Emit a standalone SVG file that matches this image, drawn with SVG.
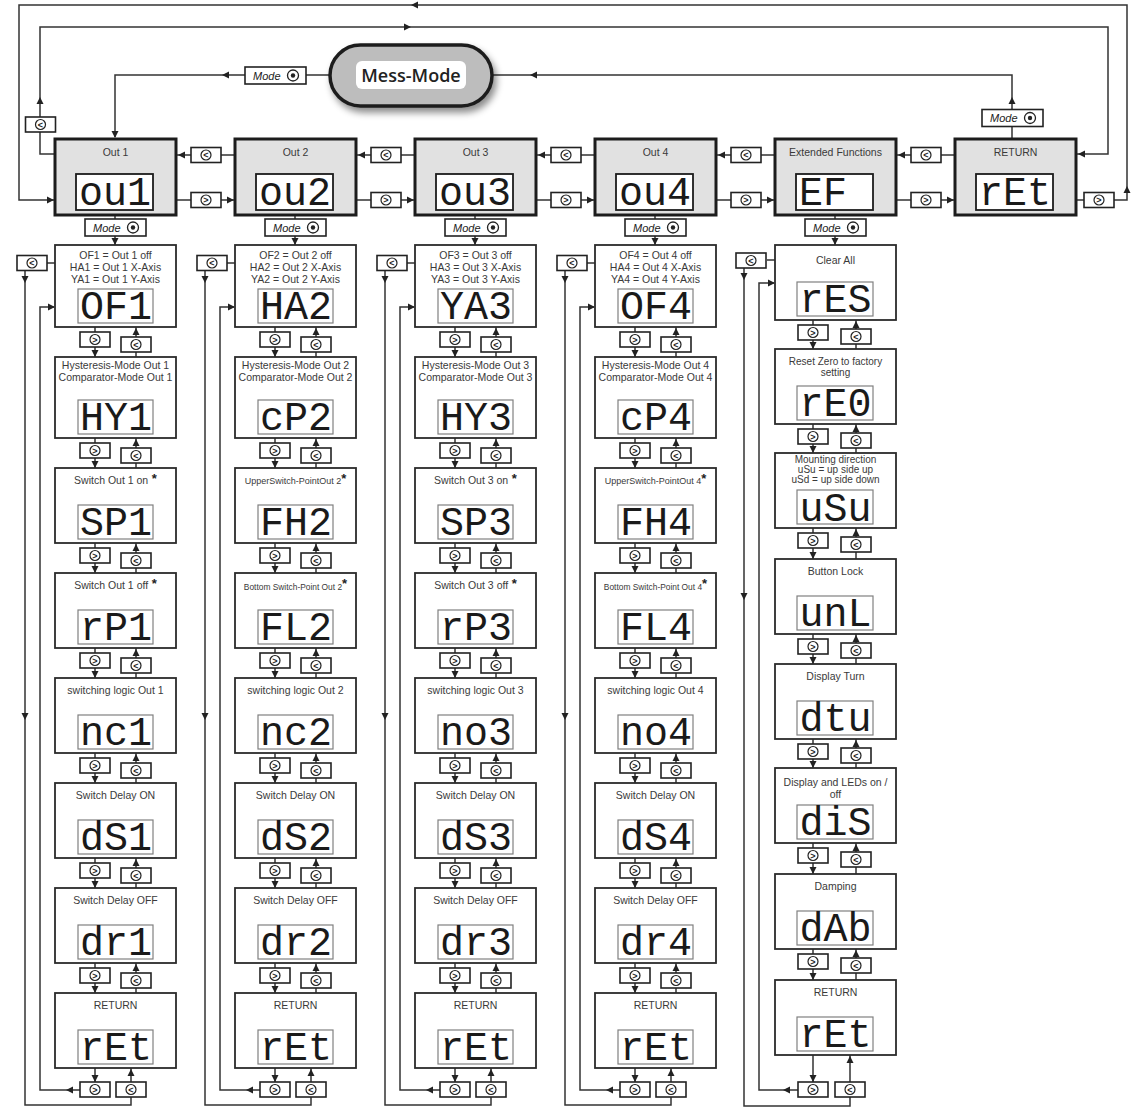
<svg xmlns="http://www.w3.org/2000/svg" width="1136" height="1117" viewBox="0 0 1136 1117">
<style>
.ln{fill:none;stroke:#333;stroke-width:1.5}
.tb{fill:#e1e1e1;stroke:#1c1c1c;stroke-width:3}
.sb{fill:#fff;stroke:#2b2b2b;stroke-width:1.8}
.lt{fill:#fff;stroke:#1c1c1c;stroke-width:1.8}
.ls{fill:#fff;stroke:#808080;stroke-width:1.2}
.t{font-family:"Liberation Sans",Arial,sans-serif;font-size:10.5px;fill:#3a3a3a;text-anchor:middle}
.t10{font-size:10px}
.t9{font-size:9px}
.t8{font-size:8.4px}
.st{font-size:13px;font-weight:bold;fill:#222}
.seg{font-family:"Liberation Mono","DejaVu Sans Mono",monospace;font-size:40px;fill:#1a1a1a}
.bt{font-family:"Liberation Sans",Arial,sans-serif;font-size:9px;font-weight:bold;fill:#222;text-anchor:middle}
.md{font-family:"Liberation Sans",Arial,sans-serif;font-size:11px;font-style:italic;fill:#222}
.mm{font-family:"Open Sans","Liberation Sans",sans-serif;font-size:18px;font-weight:600;fill:#222;text-anchor:middle}
</style>
<defs>
<path id="ah" d="M0,0 L-7,-3.5 L-7,3.5 Z" fill="#222"/>
<g id="bb"><rect width="30" height="15" fill="#fff" stroke="#222" stroke-width="1.6"/><circle cx="15" cy="7.5" r="5" fill="#fff" stroke="#222" stroke-width="1.2"/></g>
<g id="mb"><rect width="61" height="17" fill="#fff" stroke="#222" stroke-width="1.6"/><circle cx="48" cy="8.5" r="5.5" fill="#fff" stroke="#222" stroke-width="1.3"/><circle cx="48" cy="8.5" r="2.2" fill="#222"/></g>
<filter id="sh" x="-20%" y="-30%" width="150%" height="180%"><feDropShadow dx="3" dy="5" stdDeviation="3.5" flood-color="#000" flood-opacity="0.45"/></filter>
</defs>

<!-- ===== Connectors ===== -->
<g id="connectors">
<path class="ln" d="M1076,200H1127V5H19V200H68"/>
<path class="ln" d="M64,154H40V27H1108V154H1077"/>
<path class="ln" d="M330,75H115V137"/>
<path class="ln" d="M492,75H1012V139"/>
<path class="ln" d="M235,155H177M176,200H234M415,155H357M356,200H414M595,155H537M536,200H594M775,155H717M716,200H774M955,155H897M896,200H954"/>
<path class="ln" d="M115,215V245M295,215V245M475,215V245M655,215V245M835,215V245"/>
<path class="ln" d="M95,327V357M95,438V468M95,543V573M95,648V678M95,753V783M95,858V888M95,963V993M95,1068V1082M136,357V327M136,468V438M136,573V543M136,678V648M136,783V753M136,888V858M136,993V963M131,1082V1068M55,263H47M25,270V1105H131V1097M80,1090H40V307H54"/>
<path class="ln" d="M275,327V357M275,438V468M275,543V573M275,648V678M275,753V783M275,858V888M275,963V993M275,1068V1082M316,357V327M316,468V438M316,573V543M316,678V648M316,783V753M316,888V858M316,993V963M311,1082V1068M235,263H227M205,270V1105H311V1097M260,1090H220V307H234"/>
<path class="ln" d="M455,327V357M455,438V468M455,543V573M455,648V678M455,753V783M455,858V888M455,963V993M455,1068V1082M496,357V327M496,468V438M496,573V543M496,678V648M496,783V753M496,888V858M496,993V963M491,1082V1068M415,263H407M385,270V1105H491V1097M440,1090H400V307H414"/>
<path class="ln" d="M635,327V357M635,438V468M635,543V573M635,648V678M635,753V783M635,858V888M635,963V993M635,1068V1082M676,357V327M676,468V438M676,573V543M676,678V648M676,783V753M676,888V858M676,993V963M671,1082V1068M595,263H587M565,270V1105H671V1097M620,1090H580V307H594"/>
<path class="ln" d="M813,320V349M813,424V453M813,528V559M813,634V664M813,739V768M813,843V874M813,949V980M813,1055V1082M856,349V320M856,453V424M856,559V528M856,664V634M856,768V739M856,874V843M856,980V949M850,1082V1055M775,260H767M744,268V1106H850V1097M798,1090H759V283H774"/>

<use href="#ah" transform="translate(1127 186) rotate(270)"/>
<use href="#ah" transform="translate(411 5) rotate(180)"/>
<use href="#ah" transform="translate(54 200)"/>
<use href="#ah" transform="translate(40 97) rotate(270)"/>
<use href="#ah" transform="translate(411 27)"/>
<use href="#ah" transform="translate(1078 154) rotate(180)"/>
<use href="#ah" transform="translate(222 75) rotate(180)"/>
<use href="#ah" transform="translate(115 138) rotate(90)"/>
<use href="#ah" transform="translate(530 75) rotate(180)"/>
<use href="#ah" transform="translate(1012 97) rotate(270)"/>
<use href="#ah" transform="translate(178 155) rotate(180)"/>
<use href="#ah" transform="translate(234 200)"/>
<use href="#ah" transform="translate(358 155) rotate(180)"/>
<use href="#ah" transform="translate(414 200)"/>
<use href="#ah" transform="translate(538 155) rotate(180)"/>
<use href="#ah" transform="translate(594 200)"/>
<use href="#ah" transform="translate(718 155) rotate(180)"/>
<use href="#ah" transform="translate(774 200)"/>
<use href="#ah" transform="translate(898 155) rotate(180)"/>
<use href="#ah" transform="translate(954 200)"/>
<use href="#ah" transform="translate(115 245) rotate(90)"/>
<use href="#ah" transform="translate(295 245) rotate(90)"/>
<use href="#ah" transform="translate(475 245) rotate(90)"/>
<use href="#ah" transform="translate(655 245) rotate(90)"/>
<use href="#ah" transform="translate(835 245) rotate(90)"/>
<use href="#ah" transform="translate(95 357) rotate(90)"/><use href="#ah" transform="translate(95 468) rotate(90)"/><use href="#ah" transform="translate(95 573) rotate(90)"/><use href="#ah" transform="translate(95 678) rotate(90)"/><use href="#ah" transform="translate(95 783) rotate(90)"/><use href="#ah" transform="translate(95 888) rotate(90)"/><use href="#ah" transform="translate(95 993) rotate(90)"/><use href="#ah" transform="translate(95 1082) rotate(90)"/>
<use href="#ah" transform="translate(136 328) rotate(270)"/><use href="#ah" transform="translate(136 439) rotate(270)"/><use href="#ah" transform="translate(136 544) rotate(270)"/><use href="#ah" transform="translate(136 649) rotate(270)"/><use href="#ah" transform="translate(136 754) rotate(270)"/><use href="#ah" transform="translate(136 859) rotate(270)"/><use href="#ah" transform="translate(136 964) rotate(270)"/><use href="#ah" transform="translate(131 1069) rotate(270)"/>
<use href="#ah" transform="translate(25 283) rotate(90)"/><use href="#ah" transform="translate(25 720) rotate(90)"/><use href="#ah" transform="translate(66 1090) rotate(180)"/><use href="#ah" transform="translate(55 307)"/>
<use href="#ah" transform="translate(275 357) rotate(90)"/><use href="#ah" transform="translate(275 468) rotate(90)"/><use href="#ah" transform="translate(275 573) rotate(90)"/><use href="#ah" transform="translate(275 678) rotate(90)"/><use href="#ah" transform="translate(275 783) rotate(90)"/><use href="#ah" transform="translate(275 888) rotate(90)"/><use href="#ah" transform="translate(275 993) rotate(90)"/><use href="#ah" transform="translate(275 1082) rotate(90)"/>
<use href="#ah" transform="translate(316 328) rotate(270)"/><use href="#ah" transform="translate(316 439) rotate(270)"/><use href="#ah" transform="translate(316 544) rotate(270)"/><use href="#ah" transform="translate(316 649) rotate(270)"/><use href="#ah" transform="translate(316 754) rotate(270)"/><use href="#ah" transform="translate(316 859) rotate(270)"/><use href="#ah" transform="translate(316 964) rotate(270)"/><use href="#ah" transform="translate(311 1069) rotate(270)"/>
<use href="#ah" transform="translate(205 283) rotate(90)"/><use href="#ah" transform="translate(205 720) rotate(90)"/><use href="#ah" transform="translate(246 1090) rotate(180)"/><use href="#ah" transform="translate(235 307)"/>
<use href="#ah" transform="translate(455 357) rotate(90)"/><use href="#ah" transform="translate(455 468) rotate(90)"/><use href="#ah" transform="translate(455 573) rotate(90)"/><use href="#ah" transform="translate(455 678) rotate(90)"/><use href="#ah" transform="translate(455 783) rotate(90)"/><use href="#ah" transform="translate(455 888) rotate(90)"/><use href="#ah" transform="translate(455 993) rotate(90)"/><use href="#ah" transform="translate(455 1082) rotate(90)"/>
<use href="#ah" transform="translate(496 328) rotate(270)"/><use href="#ah" transform="translate(496 439) rotate(270)"/><use href="#ah" transform="translate(496 544) rotate(270)"/><use href="#ah" transform="translate(496 649) rotate(270)"/><use href="#ah" transform="translate(496 754) rotate(270)"/><use href="#ah" transform="translate(496 859) rotate(270)"/><use href="#ah" transform="translate(496 964) rotate(270)"/><use href="#ah" transform="translate(491 1069) rotate(270)"/>
<use href="#ah" transform="translate(385 283) rotate(90)"/><use href="#ah" transform="translate(385 720) rotate(90)"/><use href="#ah" transform="translate(426 1090) rotate(180)"/><use href="#ah" transform="translate(415 307)"/>
<use href="#ah" transform="translate(635 357) rotate(90)"/><use href="#ah" transform="translate(635 468) rotate(90)"/><use href="#ah" transform="translate(635 573) rotate(90)"/><use href="#ah" transform="translate(635 678) rotate(90)"/><use href="#ah" transform="translate(635 783) rotate(90)"/><use href="#ah" transform="translate(635 888) rotate(90)"/><use href="#ah" transform="translate(635 993) rotate(90)"/><use href="#ah" transform="translate(635 1082) rotate(90)"/>
<use href="#ah" transform="translate(676 328) rotate(270)"/><use href="#ah" transform="translate(676 439) rotate(270)"/><use href="#ah" transform="translate(676 544) rotate(270)"/><use href="#ah" transform="translate(676 649) rotate(270)"/><use href="#ah" transform="translate(676 754) rotate(270)"/><use href="#ah" transform="translate(676 859) rotate(270)"/><use href="#ah" transform="translate(676 964) rotate(270)"/><use href="#ah" transform="translate(671 1069) rotate(270)"/>
<use href="#ah" transform="translate(565 283) rotate(90)"/><use href="#ah" transform="translate(565 720) rotate(90)"/><use href="#ah" transform="translate(606 1090) rotate(180)"/><use href="#ah" transform="translate(595 307)"/>
<use href="#ah" transform="translate(813 349) rotate(90)"/><use href="#ah" transform="translate(813 453) rotate(90)"/><use href="#ah" transform="translate(813 559) rotate(90)"/><use href="#ah" transform="translate(813 664) rotate(90)"/><use href="#ah" transform="translate(813 768) rotate(90)"/><use href="#ah" transform="translate(813 874) rotate(90)"/><use href="#ah" transform="translate(813 980) rotate(90)"/><use href="#ah" transform="translate(813 1082) rotate(90)"/>
<use href="#ah" transform="translate(856 321) rotate(270)"/><use href="#ah" transform="translate(856 425) rotate(270)"/><use href="#ah" transform="translate(856 529) rotate(270)"/><use href="#ah" transform="translate(856 635) rotate(270)"/><use href="#ah" transform="translate(856 740) rotate(270)"/><use href="#ah" transform="translate(856 844) rotate(270)"/><use href="#ah" transform="translate(856 950) rotate(270)"/><use href="#ah" transform="translate(850 1056) rotate(270)"/>
<use href="#ah" transform="translate(744 280) rotate(90)"/><use href="#ah" transform="translate(744 600) rotate(90)"/><use href="#ah" transform="translate(783 1090) rotate(180)"/><use href="#ah" transform="translate(775 283)"/>

<use href="#mb" x="245" y="67"/><text class="md" x="253" y="79.5">Mode</text>
<use href="#mb" x="982" y="109.5"/><text class="md" x="990" y="122">Mode</text>
<use href="#mb" x="85" y="219"/><text class="md" x="93" y="231.5">Mode</text>
<use href="#mb" x="265" y="219"/><text class="md" x="273" y="231.5">Mode</text>
<use href="#mb" x="445" y="219"/><text class="md" x="453" y="231.5">Mode</text>
<use href="#mb" x="625" y="219"/><text class="md" x="633" y="231.5">Mode</text>
<use href="#mb" x="805" y="219"/><text class="md" x="813" y="231.5">Mode</text>

<use href="#bb" x="25.5" y="117"/><text class="bt" x="40.5" y="127.5">&lt;</text>
<use href="#bb" x="1084" y="192.5"/><text class="bt" x="1099" y="203">&gt;</text>
<use href="#bb" x="191" y="147.5"/><text class="bt" x="206" y="158">&lt;</text>
<use href="#bb" x="191" y="192.5"/><text class="bt" x="206" y="203">&gt;</text>
<use href="#bb" x="371" y="147.5"/><text class="bt" x="386" y="158">&lt;</text>
<use href="#bb" x="371" y="192.5"/><text class="bt" x="386" y="203">&gt;</text>
<use href="#bb" x="551" y="147.5"/><text class="bt" x="566" y="158">&lt;</text>
<use href="#bb" x="551" y="192.5"/><text class="bt" x="566" y="203">&gt;</text>
<use href="#bb" x="731" y="147.5"/><text class="bt" x="746" y="158">&lt;</text>
<use href="#bb" x="731" y="192.5"/><text class="bt" x="746" y="203">&gt;</text>
<use href="#bb" x="911" y="147.5"/><text class="bt" x="926" y="158">&lt;</text>
<use href="#bb" x="911" y="192.5"/><text class="bt" x="926" y="203">&gt;</text>

<use href="#bb" x="17" y="255.5"/><text class="bt" x="32" y="266">&lt;</text>
<use href="#bb" x="80" y="332"/><text class="bt" x="95" y="342.5">&gt;</text>
<use href="#bb" x="80" y="443"/><text class="bt" x="95" y="453.5">&gt;</text>
<use href="#bb" x="80" y="548"/><text class="bt" x="95" y="558.5">&gt;</text>
<use href="#bb" x="80" y="653"/><text class="bt" x="95" y="663.5">&gt;</text>
<use href="#bb" x="80" y="758"/><text class="bt" x="95" y="768.5">&gt;</text>
<use href="#bb" x="80" y="863"/><text class="bt" x="95" y="873.5">&gt;</text>
<use href="#bb" x="80" y="968"/><text class="bt" x="95" y="978.5">&gt;</text>
<use href="#bb" x="80" y="1082"/><text class="bt" x="95" y="1092.5">&gt;</text>
<use href="#bb" x="121" y="337"/><text class="bt" x="136" y="347.5">&lt;</text>
<use href="#bb" x="121" y="448"/><text class="bt" x="136" y="458.5">&lt;</text>
<use href="#bb" x="121" y="553"/><text class="bt" x="136" y="563.5">&lt;</text>
<use href="#bb" x="121" y="658"/><text class="bt" x="136" y="668.5">&lt;</text>
<use href="#bb" x="121" y="763"/><text class="bt" x="136" y="773.5">&lt;</text>
<use href="#bb" x="121" y="868"/><text class="bt" x="136" y="878.5">&lt;</text>
<use href="#bb" x="121" y="973"/><text class="bt" x="136" y="983.5">&lt;</text>
<use href="#bb" x="116" y="1082"/><text class="bt" x="131" y="1092.5">&lt;</text>
<use href="#bb" x="197" y="255.5"/><text class="bt" x="212" y="266">&lt;</text>
<use href="#bb" x="260" y="332"/><text class="bt" x="275" y="342.5">&gt;</text>
<use href="#bb" x="260" y="443"/><text class="bt" x="275" y="453.5">&gt;</text>
<use href="#bb" x="260" y="548"/><text class="bt" x="275" y="558.5">&gt;</text>
<use href="#bb" x="260" y="653"/><text class="bt" x="275" y="663.5">&gt;</text>
<use href="#bb" x="260" y="758"/><text class="bt" x="275" y="768.5">&gt;</text>
<use href="#bb" x="260" y="863"/><text class="bt" x="275" y="873.5">&gt;</text>
<use href="#bb" x="260" y="968"/><text class="bt" x="275" y="978.5">&gt;</text>
<use href="#bb" x="260" y="1082"/><text class="bt" x="275" y="1092.5">&gt;</text>
<use href="#bb" x="301" y="337"/><text class="bt" x="316" y="347.5">&lt;</text>
<use href="#bb" x="301" y="448"/><text class="bt" x="316" y="458.5">&lt;</text>
<use href="#bb" x="301" y="553"/><text class="bt" x="316" y="563.5">&lt;</text>
<use href="#bb" x="301" y="658"/><text class="bt" x="316" y="668.5">&lt;</text>
<use href="#bb" x="301" y="763"/><text class="bt" x="316" y="773.5">&lt;</text>
<use href="#bb" x="301" y="868"/><text class="bt" x="316" y="878.5">&lt;</text>
<use href="#bb" x="301" y="973"/><text class="bt" x="316" y="983.5">&lt;</text>
<use href="#bb" x="296" y="1082"/><text class="bt" x="311" y="1092.5">&lt;</text>
<use href="#bb" x="377" y="255.5"/><text class="bt" x="392" y="266">&lt;</text>
<use href="#bb" x="440" y="332"/><text class="bt" x="455" y="342.5">&gt;</text>
<use href="#bb" x="440" y="443"/><text class="bt" x="455" y="453.5">&gt;</text>
<use href="#bb" x="440" y="548"/><text class="bt" x="455" y="558.5">&gt;</text>
<use href="#bb" x="440" y="653"/><text class="bt" x="455" y="663.5">&gt;</text>
<use href="#bb" x="440" y="758"/><text class="bt" x="455" y="768.5">&gt;</text>
<use href="#bb" x="440" y="863"/><text class="bt" x="455" y="873.5">&gt;</text>
<use href="#bb" x="440" y="968"/><text class="bt" x="455" y="978.5">&gt;</text>
<use href="#bb" x="440" y="1082"/><text class="bt" x="455" y="1092.5">&gt;</text>
<use href="#bb" x="481" y="337"/><text class="bt" x="496" y="347.5">&lt;</text>
<use href="#bb" x="481" y="448"/><text class="bt" x="496" y="458.5">&lt;</text>
<use href="#bb" x="481" y="553"/><text class="bt" x="496" y="563.5">&lt;</text>
<use href="#bb" x="481" y="658"/><text class="bt" x="496" y="668.5">&lt;</text>
<use href="#bb" x="481" y="763"/><text class="bt" x="496" y="773.5">&lt;</text>
<use href="#bb" x="481" y="868"/><text class="bt" x="496" y="878.5">&lt;</text>
<use href="#bb" x="481" y="973"/><text class="bt" x="496" y="983.5">&lt;</text>
<use href="#bb" x="476" y="1082"/><text class="bt" x="491" y="1092.5">&lt;</text>
<use href="#bb" x="557" y="255.5"/><text class="bt" x="572" y="266">&lt;</text>
<use href="#bb" x="620" y="332"/><text class="bt" x="635" y="342.5">&gt;</text>
<use href="#bb" x="620" y="443"/><text class="bt" x="635" y="453.5">&gt;</text>
<use href="#bb" x="620" y="548"/><text class="bt" x="635" y="558.5">&gt;</text>
<use href="#bb" x="620" y="653"/><text class="bt" x="635" y="663.5">&gt;</text>
<use href="#bb" x="620" y="758"/><text class="bt" x="635" y="768.5">&gt;</text>
<use href="#bb" x="620" y="863"/><text class="bt" x="635" y="873.5">&gt;</text>
<use href="#bb" x="620" y="968"/><text class="bt" x="635" y="978.5">&gt;</text>
<use href="#bb" x="620" y="1082"/><text class="bt" x="635" y="1092.5">&gt;</text>
<use href="#bb" x="661" y="337"/><text class="bt" x="676" y="347.5">&lt;</text>
<use href="#bb" x="661" y="448"/><text class="bt" x="676" y="458.5">&lt;</text>
<use href="#bb" x="661" y="553"/><text class="bt" x="676" y="563.5">&lt;</text>
<use href="#bb" x="661" y="658"/><text class="bt" x="676" y="668.5">&lt;</text>
<use href="#bb" x="661" y="763"/><text class="bt" x="676" y="773.5">&lt;</text>
<use href="#bb" x="661" y="868"/><text class="bt" x="676" y="878.5">&lt;</text>
<use href="#bb" x="661" y="973"/><text class="bt" x="676" y="983.5">&lt;</text>
<use href="#bb" x="656" y="1082"/><text class="bt" x="671" y="1092.5">&lt;</text>
<use href="#bb" x="736" y="253"/><text class="bt" x="751" y="263.5">&lt;</text>
<use href="#bb" x="798" y="325"/><text class="bt" x="813" y="335.5">&gt;</text>
<use href="#bb" x="798" y="429"/><text class="bt" x="813" y="439.5">&gt;</text>
<use href="#bb" x="798" y="533"/><text class="bt" x="813" y="543.5">&gt;</text>
<use href="#bb" x="798" y="639"/><text class="bt" x="813" y="649.5">&gt;</text>
<use href="#bb" x="798" y="744"/><text class="bt" x="813" y="754.5">&gt;</text>
<use href="#bb" x="798" y="848"/><text class="bt" x="813" y="858.5">&gt;</text>
<use href="#bb" x="798" y="954"/><text class="bt" x="813" y="964.5">&gt;</text>
<use href="#bb" x="798" y="1082"/><text class="bt" x="813" y="1092.5">&gt;</text>
<use href="#bb" x="841" y="329"/><text class="bt" x="856" y="339.5">&lt;</text>
<use href="#bb" x="841" y="433"/><text class="bt" x="856" y="443.5">&lt;</text>
<use href="#bb" x="841" y="537"/><text class="bt" x="856" y="547.5">&lt;</text>
<use href="#bb" x="841" y="643"/><text class="bt" x="856" y="653.5">&lt;</text>
<use href="#bb" x="841" y="748"/><text class="bt" x="856" y="758.5">&lt;</text>
<use href="#bb" x="841" y="852"/><text class="bt" x="856" y="862.5">&lt;</text>
<use href="#bb" x="841" y="958"/><text class="bt" x="856" y="968.5">&lt;</text>
<use href="#bb" x="835" y="1082"/><text class="bt" x="850" y="1092.5">&lt;</text>
</g>

<!-- ===== Nodes ===== -->
<g id="n-mess">
<rect x="330" y="45" width="162" height="61" rx="30.5" fill="#bdbdbd" stroke="#1e1e1e" stroke-width="3.5" filter="url(#sh)"/>
<rect x="356" y="61" width="110" height="28" rx="6" fill="#fff"/>
<text class="mm" x="411" y="82">Mess-Mode</text>
</g>

<g id="n-out1"><rect class="tb" x="55" y="139" width="121" height="76"/><text class="t" x="115.5" y="156">Out 1</text><rect class="lt" x="76" y="174" width="77" height="36"/><text class="seg" x="79" y="205">ou1</text></g>
<g id="n-out2"><rect class="tb" x="235" y="139" width="121" height="76"/><text class="t" x="295.5" y="156">Out 2</text><rect class="lt" x="256" y="174" width="77" height="36"/><text class="seg" x="259" y="205">ou2</text></g>
<g id="n-out3"><rect class="tb" x="415" y="139" width="121" height="76"/><text class="t" x="475.5" y="156">Out 3</text><rect class="lt" x="436" y="174" width="77" height="36"/><text class="seg" x="439" y="205">ou3</text></g>
<g id="n-out4"><rect class="tb" x="595" y="139" width="121" height="76"/><text class="t" x="655.5" y="156">Out 4</text><rect class="lt" x="616" y="174" width="77" height="36"/><text class="seg" x="619" y="205">ou4</text></g>
<g id="n-ef"><rect class="tb" x="775" y="139" width="121" height="76"/><text class="t" x="835.5" y="156">Extended Functions</text><rect class="lt" x="796" y="174" width="77" height="36"/><text class="seg" x="799" y="205">EF</text></g>
<g id="n-ret"><rect class="tb" x="955" y="139" width="121" height="76"/><text class="t" x="1015.5" y="156">RETURN</text><rect class="lt" x="976" y="174" width="77" height="36"/><text class="seg" x="979" y="205">rEt</text></g>

<g id="n-of1"><rect class="sb" x="55" y="245" width="121" height="82"/><text class="t" x="115.5" y="259">OF1 = Out 1 off</text><text class="t" x="115.5" y="271">HA1 = Out 1 X-Axis</text><text class="t" x="115.5" y="283">YA1 = Out 1 Y-Axis</text><rect class="ls" x="78" y="289" width="75" height="34"/><text class="seg" x="80" y="319">OF1</text></g>
<g id="n-hy1"><rect class="sb" x="55" y="357" width="121" height="81"/><text class="t" x="115.5" y="369">Hysteresis-Mode Out 1</text><text class="t" x="115.5" y="381">Comparator-Mode Out 1</text><rect class="ls" x="78" y="400" width="75" height="34"/><text class="seg" x="80" y="430">HY1</text></g>
<g id="n-sp1"><rect class="sb" x="55" y="468" width="121" height="75"/><text class="t" x="115.5" y="484">Switch Out 1 on<tspan class="st" dy="-1"> *</tspan></text><rect class="ls" x="78" y="505" width="75" height="34"/><text class="seg" x="80" y="535">SP1</text></g>
<g id="n-rp1"><rect class="sb" x="55" y="573" width="121" height="75"/><text class="t" x="115.5" y="589">Switch Out 1 off<tspan class="st" dy="-1"> *</tspan></text><rect class="ls" x="78" y="610" width="75" height="34"/><text class="seg" x="80" y="640">rP1</text></g>
<g id="n-nc1"><rect class="sb" x="55" y="678" width="121" height="75"/><text class="t" x="115.5" y="694">switching logic Out 1</text><rect class="ls" x="78" y="715" width="75" height="34"/><text class="seg" x="80" y="745">nc1</text></g>
<g id="n-ds1"><rect class="sb" x="55" y="783" width="121" height="75"/><text class="t" x="115.5" y="799">Switch Delay ON</text><rect class="ls" x="78" y="820" width="75" height="34"/><text class="seg" x="80" y="850">dS1</text></g>
<g id="n-dr1"><rect class="sb" x="55" y="888" width="121" height="75"/><text class="t" x="115.5" y="904">Switch Delay OFF</text><rect class="ls" x="78" y="925" width="75" height="34"/><text class="seg" x="80" y="955">dr1</text></g>
<g id="n-ret1"><rect class="sb" x="55" y="993" width="121" height="75"/><text class="t" x="115.5" y="1009">RETURN</text><rect class="ls" x="78" y="1030" width="75" height="34"/><text class="seg" x="80" y="1060">rEt</text></g>

<g id="n-ha2"><rect class="sb" x="235" y="245" width="121" height="82"/><text class="t" x="295.5" y="259">OF2 = Out 2 off</text><text class="t" x="295.5" y="271">HA2 = Out 2 X-Axis</text><text class="t" x="295.5" y="283">YA2 = Out 2 Y-Axis</text><rect class="ls" x="258" y="289" width="75" height="34"/><text class="seg" x="260" y="319">HA2</text></g>
<g id="n-cp2"><rect class="sb" x="235" y="357" width="121" height="81"/><text class="t" x="295.5" y="369">Hysteresis-Mode Out 2</text><text class="t" x="295.5" y="381">Comparator-Mode Out 2</text><rect class="ls" x="258" y="400" width="75" height="34"/><text class="seg" x="260" y="430">cP2</text></g>
<g id="n-fh2"><rect class="sb" x="235" y="468" width="121" height="75"/><text class="t t9" x="295.5" y="484">UpperSwitch-PointOut 2<tspan class="st" dy="-1">*</tspan></text><rect class="ls" x="258" y="505" width="75" height="34"/><text class="seg" x="260" y="535">FH2</text></g>
<g id="n-fl2"><rect class="sb" x="235" y="573" width="121" height="75"/><text class="t t8" x="295.5" y="590">Bottom Switch-Point Out 2<tspan class="st" dy="-2">*</tspan></text><rect class="ls" x="258" y="610" width="75" height="34"/><text class="seg" x="260" y="640">FL2</text></g>
<g id="n-nc2"><rect class="sb" x="235" y="678" width="121" height="75"/><text class="t" x="295.5" y="694">switching logic Out 2</text><rect class="ls" x="258" y="715" width="75" height="34"/><text class="seg" x="260" y="745">nc2</text></g>
<g id="n-ds2"><rect class="sb" x="235" y="783" width="121" height="75"/><text class="t" x="295.5" y="799">Switch Delay ON</text><rect class="ls" x="258" y="820" width="75" height="34"/><text class="seg" x="260" y="850">dS2</text></g>
<g id="n-dr2"><rect class="sb" x="235" y="888" width="121" height="75"/><text class="t" x="295.5" y="904">Switch Delay OFF</text><rect class="ls" x="258" y="925" width="75" height="34"/><text class="seg" x="260" y="955">dr2</text></g>
<g id="n-ret2"><rect class="sb" x="235" y="993" width="121" height="75"/><text class="t" x="295.5" y="1009">RETURN</text><rect class="ls" x="258" y="1030" width="75" height="34"/><text class="seg" x="260" y="1060">rEt</text></g>

<g id="n-ya3"><rect class="sb" x="415" y="245" width="121" height="82"/><text class="t" x="475.5" y="259">OF3 = Out 3 off</text><text class="t" x="475.5" y="271">HA3 = Out 3 X-Axis</text><text class="t" x="475.5" y="283">YA3 = Out 3 Y-Axis</text><rect class="ls" x="438" y="289" width="75" height="34"/><text class="seg" x="440" y="319">YA3</text></g>
<g id="n-hy3"><rect class="sb" x="415" y="357" width="121" height="81"/><text class="t" x="475.5" y="369">Hysteresis-Mode Out 3</text><text class="t" x="475.5" y="381">Comparator-Mode Out 3</text><rect class="ls" x="438" y="400" width="75" height="34"/><text class="seg" x="440" y="430">HY3</text></g>
<g id="n-sp3"><rect class="sb" x="415" y="468" width="121" height="75"/><text class="t" x="475.5" y="484">Switch Out 3 on<tspan class="st" dy="-1"> *</tspan></text><rect class="ls" x="438" y="505" width="75" height="34"/><text class="seg" x="440" y="535">SP3</text></g>
<g id="n-rp3"><rect class="sb" x="415" y="573" width="121" height="75"/><text class="t" x="475.5" y="589">Switch Out 3 off<tspan class="st" dy="-1"> *</tspan></text><rect class="ls" x="438" y="610" width="75" height="34"/><text class="seg" x="440" y="640">rP3</text></g>
<g id="n-no3"><rect class="sb" x="415" y="678" width="121" height="75"/><text class="t" x="475.5" y="694">switching logic Out 3</text><rect class="ls" x="438" y="715" width="75" height="34"/><text class="seg" x="440" y="745">no3</text></g>
<g id="n-ds3"><rect class="sb" x="415" y="783" width="121" height="75"/><text class="t" x="475.5" y="799">Switch Delay ON</text><rect class="ls" x="438" y="820" width="75" height="34"/><text class="seg" x="440" y="850">dS3</text></g>
<g id="n-dr3"><rect class="sb" x="415" y="888" width="121" height="75"/><text class="t" x="475.5" y="904">Switch Delay OFF</text><rect class="ls" x="438" y="925" width="75" height="34"/><text class="seg" x="440" y="955">dr3</text></g>
<g id="n-ret3"><rect class="sb" x="415" y="993" width="121" height="75"/><text class="t" x="475.5" y="1009">RETURN</text><rect class="ls" x="438" y="1030" width="75" height="34"/><text class="seg" x="440" y="1060">rEt</text></g>

<g id="n-of4"><rect class="sb" x="595" y="245" width="121" height="82"/><text class="t" x="655.5" y="259">OF4 = Out 4 off</text><text class="t" x="655.5" y="271">HA4 = Out 4 X-Axis</text><text class="t" x="655.5" y="283">YA4 = Out 4 Y-Axis</text><rect class="ls" x="618" y="289" width="75" height="34"/><text class="seg" x="620" y="319">OF4</text></g>
<g id="n-cp4"><rect class="sb" x="595" y="357" width="121" height="81"/><text class="t" x="655.5" y="369">Hysteresis-Mode Out 4</text><text class="t" x="655.5" y="381">Comparator-Mode Out 4</text><rect class="ls" x="618" y="400" width="75" height="34"/><text class="seg" x="620" y="430">cP4</text></g>
<g id="n-fh4"><rect class="sb" x="595" y="468" width="121" height="75"/><text class="t t9" x="655.5" y="484">UpperSwitch-PointOut 4<tspan class="st" dy="-1">*</tspan></text><rect class="ls" x="618" y="505" width="75" height="34"/><text class="seg" x="620" y="535">FH4</text></g>
<g id="n-fl4"><rect class="sb" x="595" y="573" width="121" height="75"/><text class="t t8" x="655.5" y="590">Bottom Switch-Point Out 4<tspan class="st" dy="-2">*</tspan></text><rect class="ls" x="618" y="610" width="75" height="34"/><text class="seg" x="620" y="640">FL4</text></g>
<g id="n-no4"><rect class="sb" x="595" y="678" width="121" height="75"/><text class="t" x="655.5" y="694">switching logic Out 4</text><rect class="ls" x="618" y="715" width="75" height="34"/><text class="seg" x="620" y="745">no4</text></g>
<g id="n-ds4"><rect class="sb" x="595" y="783" width="121" height="75"/><text class="t" x="655.5" y="799">Switch Delay ON</text><rect class="ls" x="618" y="820" width="75" height="34"/><text class="seg" x="620" y="850">dS4</text></g>
<g id="n-dr4"><rect class="sb" x="595" y="888" width="121" height="75"/><text class="t" x="655.5" y="904">Switch Delay OFF</text><rect class="ls" x="618" y="925" width="75" height="34"/><text class="seg" x="620" y="955">dr4</text></g>
<g id="n-ret4"><rect class="sb" x="595" y="993" width="121" height="75"/><text class="t" x="655.5" y="1009">RETURN</text><rect class="ls" x="618" y="1030" width="75" height="34"/><text class="seg" x="620" y="1060">rEt</text></g>

<g id="n-res"><rect class="sb" x="775" y="245" width="121" height="75"/><text class="t" x="835.5" y="264">Clear All</text><rect class="ls" x="797" y="282" width="76" height="34"/><text class="seg" x="799.5" y="312">rES</text></g>
<g id="n-re0"><rect class="sb" x="775" y="349" width="121" height="75"/><text class="t t10" x="835.5" y="365">Reset Zero to factory</text><text class="t t10" x="835.5" y="375.5">setting</text><rect class="ls" x="797" y="386" width="76" height="34"/><text class="seg" x="799.5" y="416">rE0</text></g>
<g id="n-usu"><rect class="sb" x="775" y="453" width="121" height="75"/><text class="t t10" x="835.5" y="463">Mounting direction</text><text class="t t10" x="835.5" y="473">uSu = up side up</text><text class="t t10" x="835.5" y="483">uSd = up side down</text><rect class="ls" x="797" y="490" width="76" height="34"/><text class="seg" x="799.5" y="521">uSu</text></g>
<g id="n-unl"><rect class="sb" x="775" y="559" width="121" height="75"/><text class="t" x="835.5" y="575">Button Lock</text><rect class="ls" x="797" y="596" width="76" height="34"/><text class="seg" x="799.5" y="626">unL</text></g>
<g id="n-dtu"><rect class="sb" x="775" y="664" width="121" height="75"/><text class="t" x="835.5" y="680">Display Turn</text><rect class="ls" x="797" y="701" width="76" height="34"/><text class="seg" x="799.5" y="731">dtu</text></g>
<g id="n-dis"><rect class="sb" x="775" y="768" width="121" height="75"/><text class="t" x="835.5" y="786">Display and LEDs on /</text><text class="t" x="835.5" y="798">off</text><rect class="ls" x="797" y="805" width="76" height="34"/><text class="seg" x="799.5" y="835">diS</text></g>
<g id="n-dab"><rect class="sb" x="775" y="874" width="121" height="75"/><text class="t" x="835.5" y="890">Damping</text><rect class="ls" x="797" y="911" width="76" height="34"/><text class="seg" x="799.5" y="941">dAb</text></g>
<g id="n-ret5"><rect class="sb" x="775" y="980" width="121" height="75"/><text class="t" x="835.5" y="996">RETURN</text><rect class="ls" x="797" y="1017" width="76" height="34"/><text class="seg" x="799.5" y="1047">rEt</text></g>
</svg>
